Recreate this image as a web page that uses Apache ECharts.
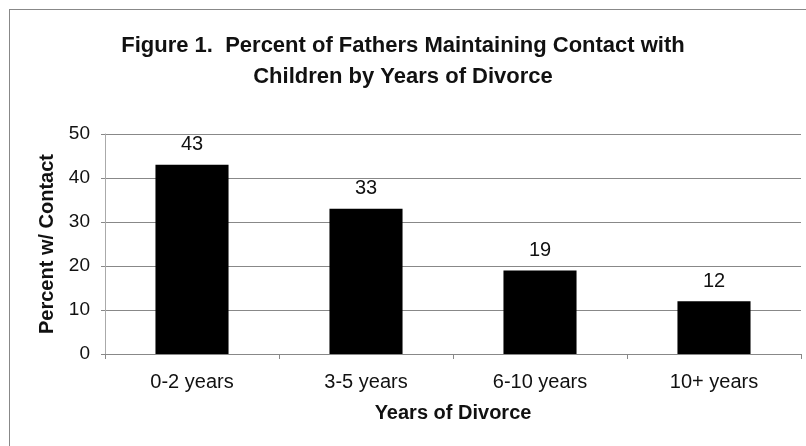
<!DOCTYPE html>
<html>
<head>
<meta charset="utf-8">
<script src="https://cdn.jsdelivr.net/npm/echarts@6/dist/echarts.min.js"></script>
<style>
  html, body { margin: 0; padding: 0; background: #fff; }
  #frame { position: absolute; left: 9px; top: 9px; width: 806px; height: 446px;
           border-left: 1px solid #888; border-top: 1px solid #888; }
  #chart { position: absolute; left: 0; top: 0; width: 806px; height: 446px; }
</style>
</head>
<body>
<div id="frame"></div>
<div id="chart"></div>
<script>
// Years since divorce and share of fathers still in contact
const categories = ['0-2 years', '3-5 years', '6-10 years', '10+ years'];
const percentWithContact = [43, 33, 19, 12];
const yTicks = { min: 0, max: 50, interval: 10 };

const font = '"Liberation Sans", Arial, Helvetica, sans-serif';
const chart = echarts.init(document.getElementById('chart'), null, { renderer: 'canvas' });

chart.setOption({
  animation: false,
  backgroundColor: 'transparent',
  title: {
    text: 'Figure 1.  Percent of Fathers Maintaining Contact with\nChildren by Years of Divorce',
    left: 'center',
    top: 25,
    textStyle: { fontFamily: font, fontWeight: 'bold', fontSize: 22, lineHeight: 31, color: '#111' }
  },
  grid: { left: 105, right: 5, top: 134, bottom: 92 },
  xAxis: {
    type: 'category',
    data: categories,
    name: 'Years of Divorce',
    nameLocation: 'middle',
    nameGap: 49,
    nameTextStyle: { fontFamily: font, fontWeight: 'bold', fontSize: 20, color: '#111' },
    axisLine: { lineStyle: { color: '#888', width: 1 } },
    axisTick: { show: true, alignWithLabel: false, length: 5, lineStyle: { color: '#888' } },
    axisLabel: { fontFamily: font, fontSize: 20, color: '#111', margin: 18 }
  },
  yAxis: {
    type: 'value',
    min: yTicks.min,
    max: yTicks.max,
    interval: yTicks.interval,
    name: 'Percent w/ Contact',
    nameLocation: 'middle',
    nameGap: 47,
    nameTextStyle: { fontFamily: font, fontWeight: 'bold', fontSize: 20, color: '#111' },
    axisLine: { show: true, lineStyle: { color: '#aaa', width: 1 } },
    axisTick: { show: true, length: 4, lineStyle: { color: '#888' } },
    axisLabel: { fontFamily: font, fontSize: 19, color: '#111', margin: 15 },
    splitLine: { show: true, lineStyle: { color: '#888', width: 1 } }
  },
  series: [{
    type: 'bar',
    data: percentWithContact,
    barWidth: '42%',
    itemStyle: { color: '#000' },
    label: {
      show: true,
      position: 'top',
      distance: 10,
      fontFamily: font,
      fontSize: 20,
      color: '#111'
    }
  }]
});
</script>
</body>
</html>
